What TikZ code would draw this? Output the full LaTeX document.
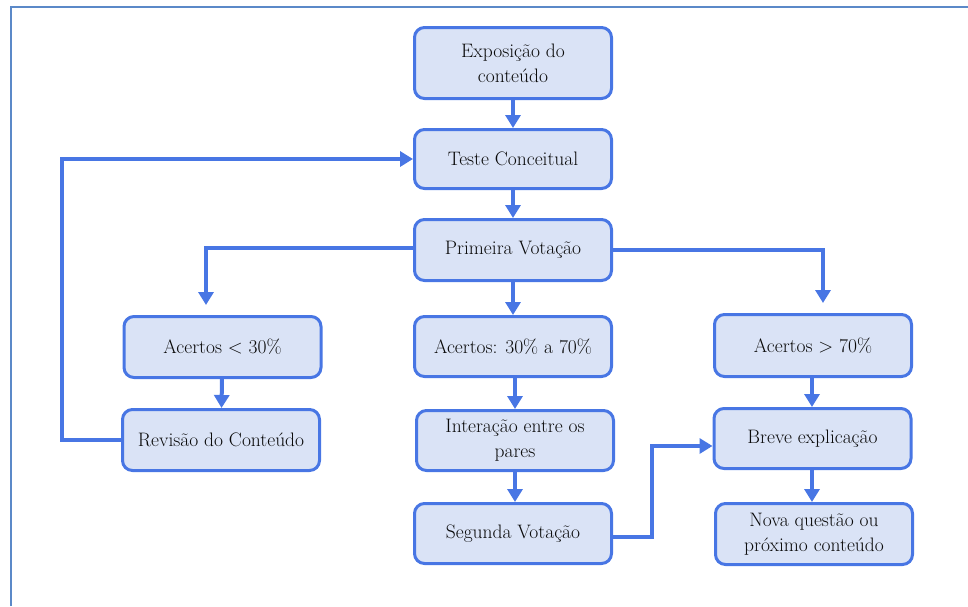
\documentclass[tikz,border=0pt]{standalone}
\usepackage{fontspec}
\usetikzlibrary{arrows.meta}
\definecolor{lineblue}{RGB}{72,118,228}
\definecolor{boxfill}{RGB}{218,227,246}
\definecolor{frameblue}{RGB}{91,137,200}
\definecolor{txt}{RGB}{10,10,10}
\tikzset{
  flowbox/.style={draw=lineblue, line width=3pt, fill=boxfill, rounded corners=10pt,
    minimum width=197pt, align=center, text=txt, inner sep=2pt,
    font=\fontsize{19.5pt}{25pt}\selectfont},
  conn/.style={draw=lineblue, line width=4pt, -{Triangle[width=15pt,length=13pt]}}
}
\begin{document}
\begin{tikzpicture}[x=1pt,y=-1pt]
\useasboundingbox (0,0) rectangle (968,606);
\draw[frameblue, line width=2.2pt] (11,606) -- (11,7) -- (968,7);
\node[flowbox, minimum height=71pt] (expo) at (513,63) {Exposição do\\conteúdo};
\node[flowbox, minimum height=59pt] (teste) at (513,159) {Teste Conceitual};
\node[flowbox, minimum height=61pt] (prim) at (513,250) {Primeira Votação};
\node[flowbox, minimum height=60pt] (amid) at (513,346.5) {Acertos: 30\% a 70\%};
\node[flowbox, minimum height=60pt] (inter) at (515,440.5) {Interação entre os\\pares};
\node[flowbox, minimum height=60pt] (seg) at (513,533.5) {Segunda Votação};
\node[flowbox, minimum height=61pt] (alow) at (222.5,347) {Acertos < 30\%};
\node[flowbox, minimum height=61pt] (rev) at (221,440) {Revisão do Conteúdo};
\node[flowbox, minimum height=62pt] (ahigh) at (813,345.5) {Acertos > 70\%};
\node[flowbox, minimum height=60pt] (breve) at (812.5,438.5) {Breve explicação};
\node[flowbox, minimum height=61pt] (nova) at (814,534) {Nova questão ou\\próximo conteúdo};
\draw[conn] (expo) -- (teste);
\draw[conn] (teste) -- (prim);
\draw[conn] (prim) -- (amid);
\draw[conn] ([xshift=2pt]amid.south) -- (inter.north);
\draw[conn] (inter) -- ([xshift=2pt]seg.north);
\draw[conn] (alow) -- (rev);
\draw[conn] ([xshift=-1pt]ahigh.south) -- ([xshift=-0.5pt]breve.north);
\draw[conn] ([xshift=-0.5pt]breve.south) -- ([xshift=-2pt]nova.north);
\draw[conn] ([yshift=2pt]prim.west) -| ([xshift=-16.5pt,yshift=10pt]alow.north);
\draw[conn] (prim.east) -| ([xshift=10pt,yshift=10pt]ahigh.north);
\draw[conn] (rev.west) -- ++(-59,0) |- (teste.west);
\draw[conn] ([yshift=-3.5pt]seg.east) -- ++(39,0) |- ([yshift=-7.5pt]breve.west);
\end{tikzpicture}
\end{document}
